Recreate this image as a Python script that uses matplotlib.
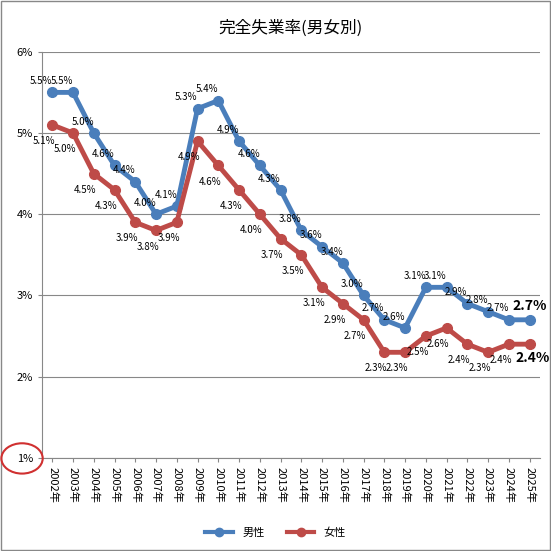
import matplotlib
matplotlib.use("Agg")
from matplotlib import pyplot as plt
from matplotlib.patches import Ellipse, Rectangle
from matplotlib.lines import Line2D

plt.rcParams['font.family'] = ['Noto Sans CJK JP', 'DejaVu Sans']

years = list(range(2002, 2026))
labels = [str(y) + '年' for y in years]
male = [5.5, 5.5, 5.0, 4.6, 4.4, 4.0, 4.1, 5.3, 5.4, 4.9, 4.6, 4.3,
        3.8, 3.6, 3.4, 3.0, 2.7, 2.6, 3.1, 3.1, 2.9, 2.8, 2.7, 2.7]
female = [5.1, 5.0, 4.5, 4.3, 3.9, 3.8, 3.9, 4.9, 4.6, 4.3, 4.0, 3.7,
          3.5, 3.1, 2.9, 2.7, 2.3, 2.3, 2.5, 2.6, 2.4, 2.3, 2.4, 2.4]

blue = '#4a7ebb'
red = '#be4b48'

fig = plt.figure(figsize=(5.51, 5.51), dpi=100)
fig.patches.append(Rectangle((0.002, 0.002), 0.996, 0.996, transform=fig.transFigure,
                             fill=False, edgecolor='#888888', linewidth=1))
ax = fig.add_axes([0.076, 0.169, 0.904, 0.737])
x = range(len(years))
ax.plot(x, male, color=blue, linewidth=3.5, marker='o', markersize=7, label='男性')
ax.plot(x, female, color=red, linewidth=3.5, marker='o', markersize=7, label='女性')

for i, v in enumerate(male):
    if i == len(male) - 1:
        ax.annotate('%.1f%%' % v, (i, v), xytext=(0, 7), textcoords='offset points',
                    fontsize=10, fontweight='bold', ha='center')
    else:
        ax.annotate('%.1f%%' % v, (i, v), xytext=(-8, 6), textcoords='offset points',
                    fontsize=7, ha='center')
for i, v in enumerate(female):
    if i == len(female) - 1:
        ax.annotate('%.1f%%' % v, (i, v), xytext=(2, -5), textcoords='offset points',
                    fontsize=10, fontweight='bold', ha='center', va='top')
    else:
        ax.annotate('%.1f%%' % v, (i, v), xytext=(-6, -8), textcoords='offset points',
                    fontsize=7, ha='center', va='top')

ax.set_ylim(1, 6)
ax.set_xlim(-0.5, len(years) - 0.5)
ax.set_yticks([1, 2, 3, 4, 5, 6])
ax.set_yticklabels(['%d%%' % t for t in range(1, 7)], fontsize=8)
ax.set_xticks(list(x))
ax.set_xticklabels(labels, rotation=270, fontsize=8)
ax.grid(axis='y', color='#888888', linewidth=0.8)
for s in ['top', 'right']:
    ax.spines[s].set_visible(False)
ax.spines['left'].set_color('#888888')
ax.spines['bottom'].set_color('#888888')
ax.tick_params(length=3, color='#888888')
ax.set_title('完全失業率(男女別)', fontsize=12, pad=14)

fig.patches.append(Ellipse((0.04, 0.168), 0.075, 0.055, transform=fig.transFigure,
                           fill=False, edgecolor='#d03030', linewidth=1.5))

handles = [Line2D([], [], color=blue, linewidth=3, marker='o', markersize=6),
           Line2D([], [], color=red, linewidth=3, marker='o', markersize=6)]
fig.legend(handles, ['男性', '女性'], loc='lower center', ncol=2, frameon=False,
           fontsize=8, bbox_to_anchor=(0.5, 0.005), handlelength=2.5)

plt.savefig('out.png')
